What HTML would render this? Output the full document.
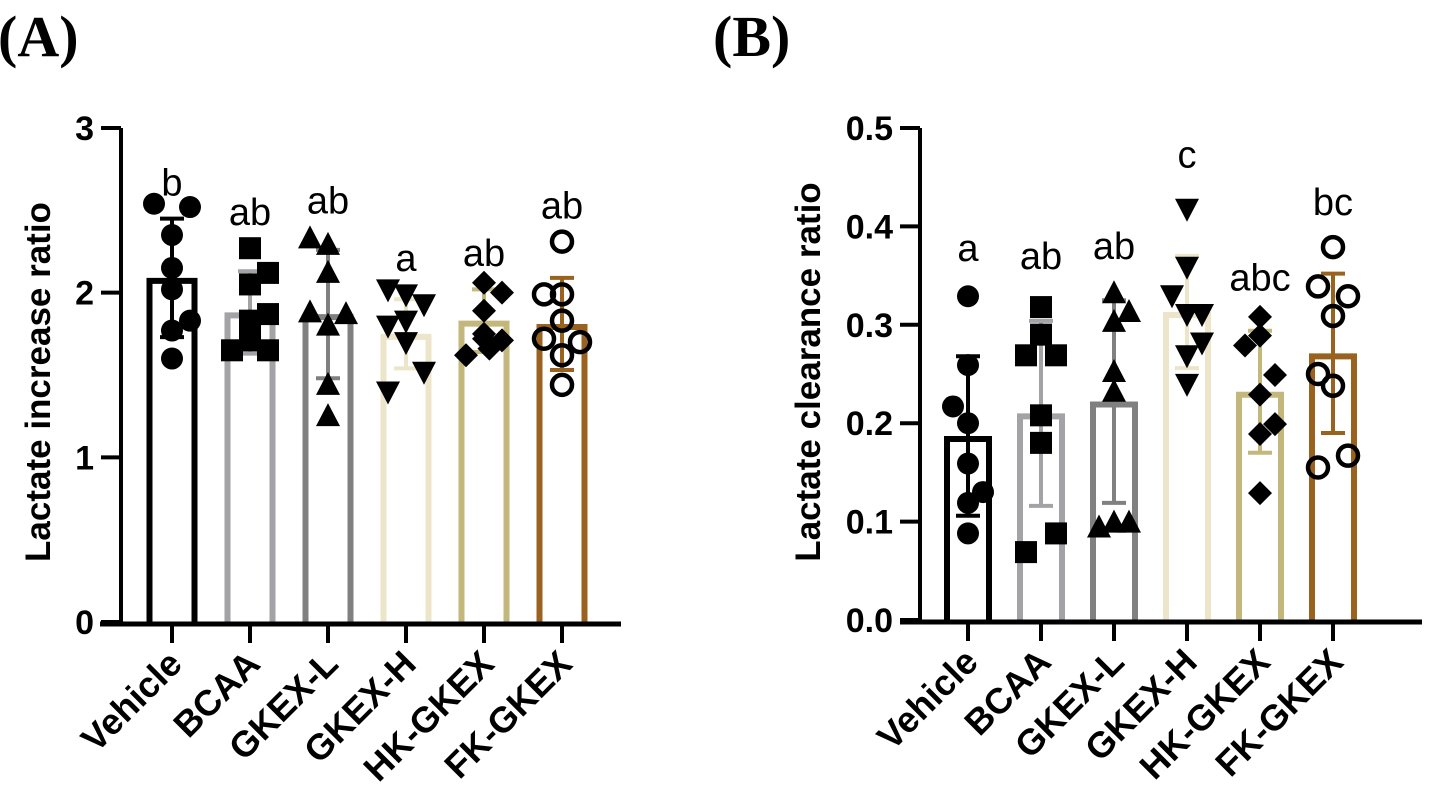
<!DOCTYPE html>
<html><head><meta charset="utf-8">
<style>
html,body{margin:0;padding:0;background:#fff;}
svg{display:block;font-family:"Liberation Sans",Arial,sans-serif;}
</style></head>
<body>
<svg id="fig" width="1430" height="811" viewBox="0 0 1430 811" xmlns="http://www.w3.org/2000/svg">
<text x="-2" y="56" font-family="Liberation Serif,serif" font-weight="bold" font-size="58">(A)</text>
<text x="713" y="56" font-family="Liberation Serif,serif" font-weight="bold" font-size="58">(B)</text>
<g id="pa"></g>
<g id="pb"></g>
</svg>
<script>
const categories = ["Vehicle","BCAA","GKEX-L","GKEX-H","HK-GKEX","FK-GKEX"];
const colors = ["#000000","#a2a2a7","#808080","#ece5c9","#c3b77c","#99621f"];
const shapes = ["circle","square","triangle","invtriangle","diamond","opencircle"];

const aMeans = [2.09,1.88,1.87,1.75,1.83,1.81];
const aSD = [0.36,0.25,0.39,0.21,0.19,0.28];
const aLetters = ["b","ab","ab","a","ab","ab"];
const aLetterY = [2.67,2.49,2.56,2.21,2.24,2.53];
const aPoints = [
 [2.54,2.52,2.35,2.15,2.02,1.83,1.77,1.60],
 [2.27,2.12,2.05,1.87,1.83,1.65,1.71,1.65],
 [2.33,2.29,2.12,1.88,1.87,1.80,1.44,1.25],
 [2.02,1.99,1.93,1.80,1.83,1.70,1.52,1.40],
 [2.06,2.00,1.89,1.75,1.72,1.71,1.62,1.66],
 [2.31,1.99,1.99,1.83,1.72,1.70,1.62,1.44]];
const aOffsets = [
 [-1,1,0,0,0,1,0,0],[0,1,0,1,0,-1,0,1],[-1,0,0,-1,1,0,0,0],
 [-1,0,1,-1,0,0,1,-1],[0,1,0,0,0,1,-1,0.3],[0,-1,0,0,-1,1,0,0]];
const aTicks = ["0","1","2","3"];

const bMeans = [0.187,0.210,0.222,0.313,0.232,0.271];
const bSD = [0.081,0.094,0.103,0.057,0.062,0.081];
const bLetters = ["a","ab","ab","c","abc","bc"];
const bLetterY = [0.378,0.370,0.380,0.473,0.348,0.425];
const bPoints = [
 [0.329,0.259,0.217,0.200,0.159,0.130,0.119,0.088],
 [0.318,0.290,0.269,0.269,0.208,0.180,0.088,0.069],
 [0.332,0.313,0.303,0.252,0.232,0.094,0.099,0.099],
 [0.418,0.359,0.330,0.311,0.311,0.282,0.269,0.240],
 [0.308,0.289,0.279,0.249,0.229,0.199,0.189,0.129],
 [0.379,0.339,0.329,0.309,0.250,0.238,0.167,0.155]];
const bOffsets = [
 [0,0,-1,0,0,1,0,0],[0,0,-1,1,0,0,1,-1],[0,1,0,0,0,-1,0,1],
 [0,0,-1,0,1,1,0,0],[0,0,-1,1,0,1,0,0],[0,-1,1,0,-1,0,1,-1]];
const bTicks = ["0.0","0.1","0.2","0.3","0.4","0.5"];

const NS="http://www.w3.org/2000/svg";
function mk(parent,tag,attrs){const e=document.createElementNS(NS,tag);for(const k in attrs)e.setAttribute(k,attrs[k]);parent.appendChild(e);return e;}

function drawPanel(g,cfg){
  const yS=v=>cfg.y0-(v/cfg.ymax)*(cfg.y0-cfg.ytop);
  const xS=i=>cfg.x0+i*cfg.step;
  let e=mk(g,'line',{x1:cfg.ax,y1:cfg.ytop,x2:cfg.ax,y2:cfg.y0+2,stroke:'#000','stroke-width':4});
  
  cfg.ticks.forEach((t,i)=>{
    const v=cfg.ymax*i/(cfg.ticks.length-1);const y=yS(v);
    let l=mk(g,'line',{x1:cfg.ax-20,y1:y,x2:cfg.ax,y2:y,stroke:'#000','stroke-width':4});
    
    let tx=mk(g,'text',{x:cfg.ax-27,y:y+12,'text-anchor':'end','font-size':34,'font-weight':'bold'});
    tx.textContent=t;
    
  });
  let ttl=mk(g,'text',{x:0,y:0,'text-anchor':'middle','font-size':35,'font-weight':'bold',transform:`translate(${cfg.titleX},${cfg.titleY}) rotate(-90)`});
  ttl.textContent=cfg.title;
  
  const bw=cfg.bw, sw=6;
  categories.forEach((c,i)=>{
    const cx=xS(i), col=colors[i];
    const top=yS(cfg.means[i]);
    let r=mk(g,'path',{d:`M${cx-bw/2+sw/2},${cfg.y0} L${cx-bw/2+sw/2},${top+sw/2} L${cx+bw/2-sw/2},${top+sw/2} L${cx+bw/2-sw/2},${cfg.y0}`,fill:'none',stroke:col,'stroke-width':sw});
    
    const up=yS(cfg.means[i]+cfg.sd[i]), lo=yS(cfg.means[i]-cfg.sd[i]);
    let eb=mk(g,'path',{d:`M${cx},${up} L${cx},${lo} M${cx-12},${up} L${cx+12},${up} M${cx-12},${lo} L${cx+12},${lo}`,stroke:col,'stroke-width':4,fill:'none'});
    
    cfg.points[i].forEach((v,j)=>{
      const px=cx+cfg.offsets[i][j]*cfg.jit, py=yS(v);
      let s; const sh=shapes[i];
      if(sh==='circle') s=mk(g,'circle',{cx:px,cy:py,r:11,fill:'#000'});
      else if(sh==='opencircle') s=mk(g,'circle',{cx:px,cy:py,r:10,fill:'none',stroke:'#000','stroke-width':4.5});
      else if(sh==='square') s=mk(g,'rect',{x:px-11,y:py-11,width:22,height:22,fill:'#000'});
      else if(sh==='triangle') s=mk(g,'polygon',{points:`${px},${py-13} ${px+12},${py+10} ${px-12},${py+10}`,fill:'#000'});
      else if(sh==='invtriangle') s=mk(g,'polygon',{points:`${px},${py+13} ${px+12},${py-10} ${px-12},${py-10}`,fill:'#000'});
      else s=mk(g,'polygon',{points:`${px},${py-12} ${px+12},${py} ${px},${py+12} ${px-12},${py}`,fill:'#000'});
      
    });
    let lt=mk(g,'text',{x:cx,y:yS(cfg.letterY[i])+13,'text-anchor':'middle','font-size':38});
    lt.textContent=cfg.letters[i];
    
    let tk=mk(g,'line',{x1:cx,y1:cfg.y0,x2:cx,y2:cfg.y0+21,stroke:'#000','stroke-width':4});
    
    let cl=mk(g,'text',{x:0,y:0,'text-anchor':'end','font-size':36,'font-weight':'bold',transform:`translate(${cx+12},${cfg.y0+44}) rotate(-45)`});
    cl.textContent=c;
    
  });
  let xa=mk(g,'line',{x1:cfg.xaStart,y1:cfg.y0+2,x2:cfg.xaEnd,y2:cfg.y0+2,stroke:'#000','stroke-width':5});
  
}
drawPanel(document.getElementById('pa'),{ax:121,ytop:128,y0:622,ymax:3,x0:172,step:78,bw:51,jit:18,
  ticks:aTicks,means:aMeans,sd:aSD,points:aPoints,offsets:aOffsets,letters:aLetters,letterY:aLetterY,
  title:"Lactate increase ratio",titleX:50,titleY:382,xaStart:100,xaEnd:621});
drawPanel(document.getElementById('pb'),{ax:920,ytop:128,y0:620,ymax:0.5,x0:968,step:73,bw:48,jit:15,
  ticks:bTicks,means:bMeans,sd:bSD,points:bPoints,offsets:bOffsets,letters:bLetters,letterY:bLetterY,
  title:"Lactate clearance ratio",titleX:820,titleY:372,xaStart:900,xaEnd:1422});
</script>
</body></html>
